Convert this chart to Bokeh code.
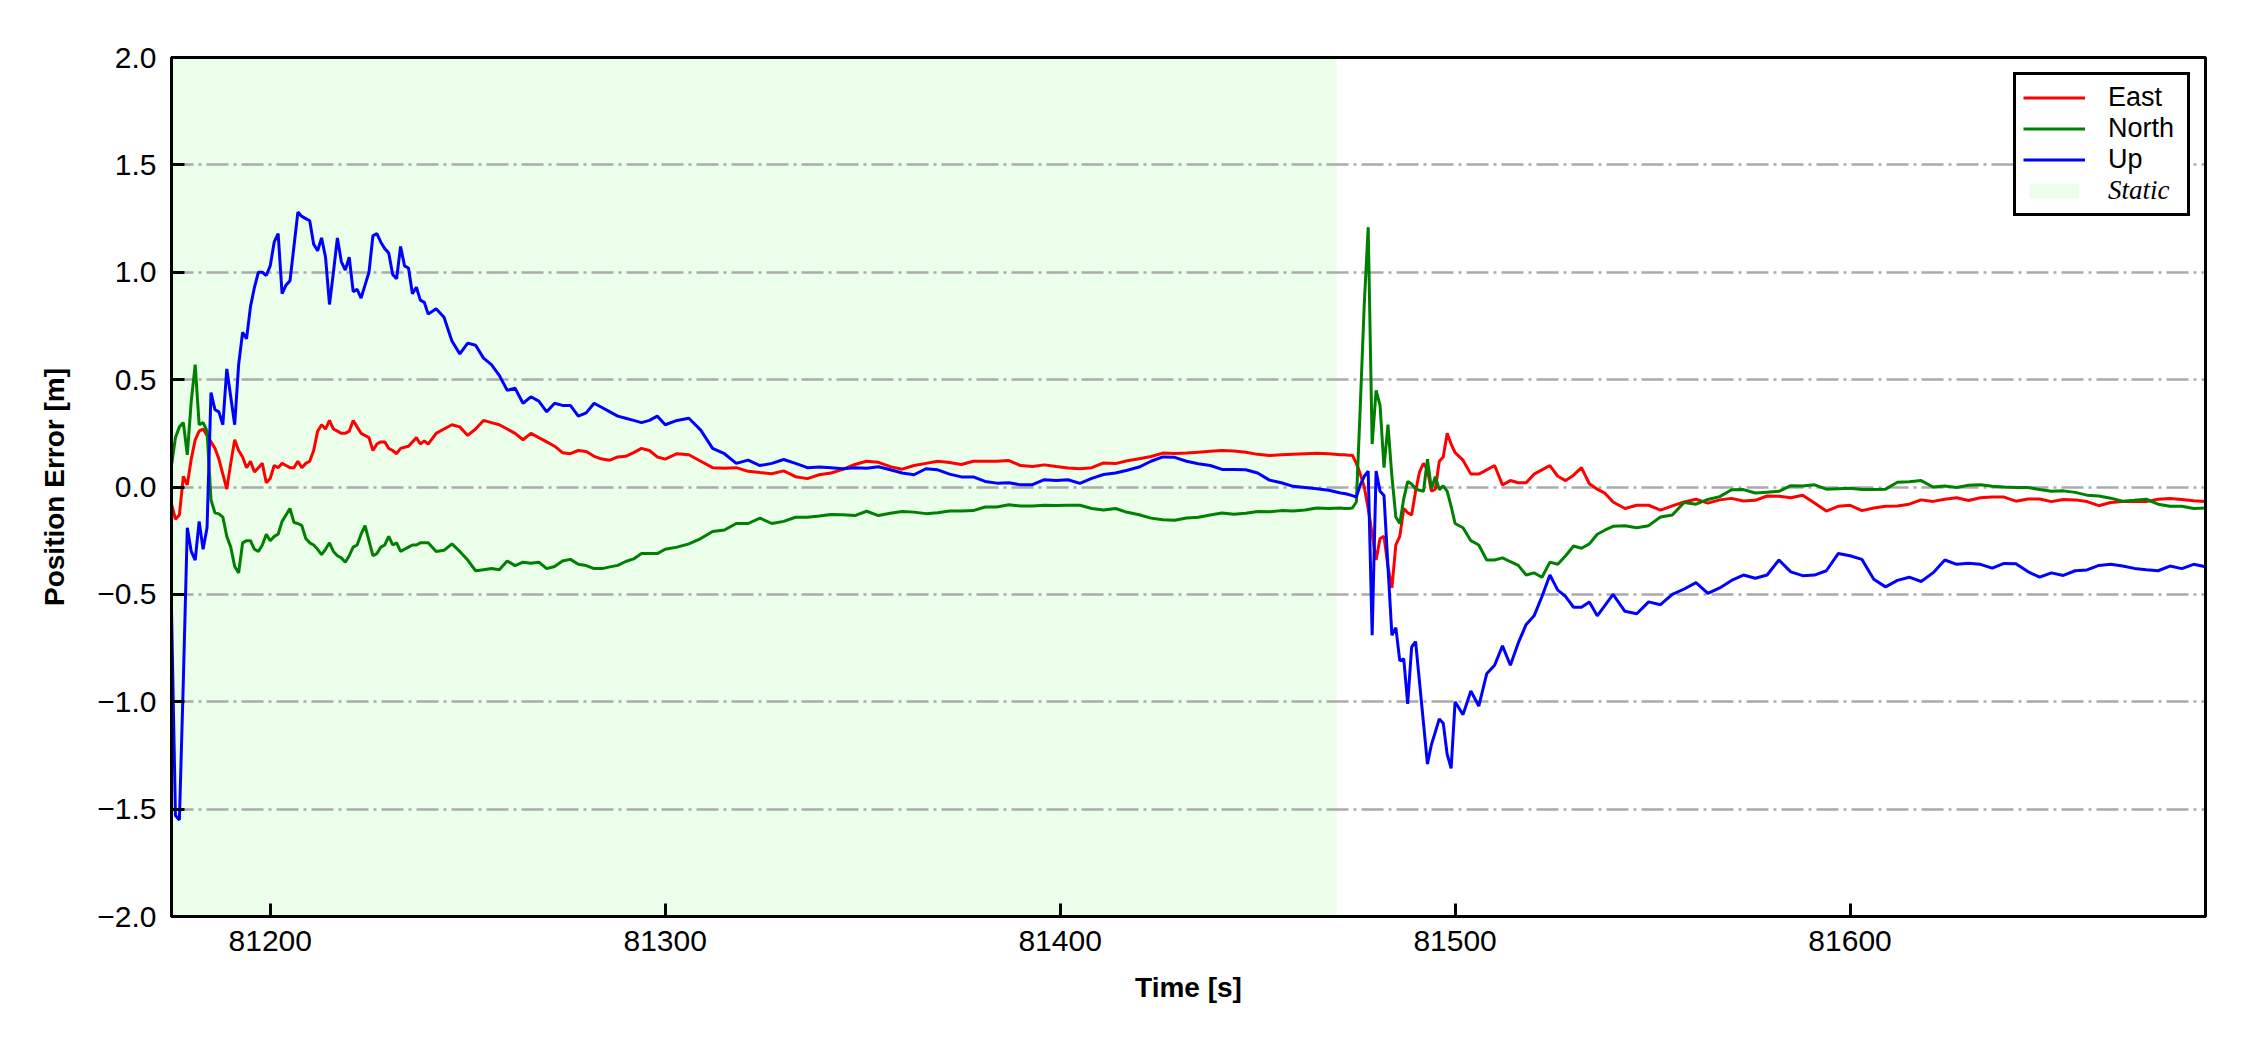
import numpy as np
from bokeh.plotting import figure
from bokeh.models import Range1d, FixedTicker, Legend, LegendItem, LinearAxis
from bokeh.embed import file_html
from bokeh.resources import INLINE

# ---------------- data ----------------
time_s = np.concatenate([
    np.arange(81175, 81241, 1),
    np.arange(81242, 81301, 2),
    np.arange(81303, 81472, 3),
    np.arange(81472, 81501, 1),
    np.arange(81502, 81541, 2),
    np.arange(81543, 81691, 3),
])

east = [
    -0.08, -0.15, -0.13, 0.05, 0.01, 0.13, 0.22, 0.26, 0.27, 0.24,
    0.21, 0.18, 0.13, 0.06, -0.01, 0.11, 0.22, 0.17, 0.14, 0.09,
    0.12, 0.07, 0.09, 0.11, 0.02, 0.04, 0.10, 0.09, 0.11, 0.10,
    0.09, 0.09, 0.12, 0.09, 0.11, 0.12, 0.17, 0.26, 0.29, 0.27,
    0.31, 0.27, 0.26, 0.25, 0.25, 0.26, 0.31, 0.28, 0.25, 0.24,
    0.23, 0.17, 0.20, 0.21, 0.21, 0.18, 0.17, 0.155, 0.18, 0.185,
    0.19, 0.21, 0.23, 0.20, 0.215, 0.20,
    0.25, 0.27, 0.29, 0.28, 0.24, 0.27, 0.31, 0.30, 0.29, 0.27,
    0.25, 0.22, 0.25, 0.23, 0.21, 0.19, 0.16, 0.155, 0.17, 0.165,
    0.143, 0.13, 0.125, 0.14, 0.143, 0.16, 0.18, 0.17, 0.14, 0.13,
    0.155, 0.15, 0.12, 0.09, 0.087, 0.09, 0.073, 0.067, 0.062, 0.075,
    0.048, 0.039, 0.057, 0.065, 0.082, 0.105, 0.12, 0.115, 0.095, 0.083,
    0.10, 0.11, 0.12, 0.114, 0.105, 0.12, 0.12, 0.12, 0.123, 0.10,
    0.095, 0.103, 0.095, 0.089, 0.085, 0.09, 0.112, 0.109, 0.122, 0.132,
    0.142, 0.158, 0.156, 0.158, 0.162, 0.166, 0.17, 0.168, 0.162, 0.152,
    0.147, 0.15, 0.153, 0.155, 0.157, 0.155, 0.15,
    0.15, 0.148, 0.148, 0.11, 0.06, 0.0, -0.1, -0.22, -0.34, -0.24,
    -0.23, -0.37, -0.47, -0.27, -0.23, -0.10, -0.12, -0.13, -0.02, 0.07,
    0.11, 0.08, -0.02, -0.01, 0.12, 0.14, 0.25, 0.20, 0.16,
    0.125, 0.06, 0.06, 0.08, 0.10, 0.01, 0.03, 0.02, 0.02, 0.06,
    0.08, 0.10, 0.05, 0.03, 0.055, 0.09, 0.015, -0.01, -0.03, -0.07,
    -0.10, -0.085, -0.085, -0.108, -0.088, -0.07, -0.057, -0.075, -0.06, -0.053,
    -0.065, -0.062, -0.042, -0.043, -0.05, -0.038, -0.075, -0.112, -0.09, -0.085,
    -0.11, -0.098, -0.09, -0.088, -0.08, -0.06, -0.067, -0.057, -0.05, -0.063,
    -0.05, -0.047, -0.047, -0.066, -0.056, -0.056, -0.068, -0.058, -0.06, -0.068,
    -0.087, -0.072, -0.067, -0.068, -0.068, -0.057, -0.053, -0.058, -0.064, -0.067,
]

north = [
    0.10, 0.23, 0.28, 0.30, 0.15, 0.40, 0.57, 0.29, 0.30, 0.26,
    -0.06, -0.12, -0.125, -0.14, -0.23, -0.28, -0.37, -0.40, -0.26, -0.25,
    -0.25, -0.29, -0.30, -0.27, -0.22, -0.25, -0.23, -0.22, -0.16, -0.13,
    -0.10, -0.165, -0.17, -0.18, -0.24, -0.26, -0.27, -0.29, -0.315, -0.29,
    -0.26, -0.30, -0.32, -0.33, -0.35, -0.32, -0.28, -0.27, -0.22, -0.18,
    -0.25, -0.32, -0.31, -0.28, -0.27, -0.23, -0.27, -0.26, -0.30, -0.29,
    -0.28, -0.27, -0.27, -0.26, -0.26, -0.26,
    -0.30, -0.295, -0.265, -0.30, -0.34, -0.39, -0.385, -0.38, -0.385, -0.345,
    -0.366, -0.35, -0.355, -0.35, -0.38, -0.37, -0.345, -0.337, -0.36, -0.366,
    -0.38, -0.38, -0.372, -0.365, -0.347, -0.335, -0.31, -0.31, -0.31, -0.29,
    -0.28, -0.265, -0.24, -0.207, -0.20, -0.17, -0.17, -0.145, -0.17, -0.16,
    -0.141, -0.141, -0.135, -0.128, -0.129, -0.133, -0.113, -0.133, -0.122, -0.114,
    -0.117, -0.124, -0.12, -0.112, -0.112, -0.11, -0.093, -0.093, -0.083, -0.088,
    -0.088, -0.085, -0.086, -0.085, -0.085, -0.10, -0.107, -0.10, -0.118, -0.129,
    -0.145, -0.153, -0.155, -0.144, -0.141, -0.13, -0.121, -0.127, -0.122, -0.114,
    -0.115, -0.11, -0.112, -0.107, -0.098, -0.10, -0.098,
    -0.10, -0.10, -0.098, -0.07, 0.38, 0.85, 1.21, 0.20, 0.45, 0.38,
    0.09, 0.29, 0.05, -0.14, -0.17, -0.055, 0.026, 0.014, -0.01, -0.015,
    -0.02, 0.13, -0.007, 0.048, -0.012, 0.005, -0.02, -0.09, -0.17,
    -0.19, -0.25, -0.27, -0.34, -0.34, -0.33, -0.348, -0.365, -0.41, -0.40,
    -0.42, -0.35, -0.36, -0.32, -0.275, -0.285, -0.265, -0.22, -0.20, -0.183,
    -0.18, -0.19, -0.18, -0.14, -0.13, -0.072, -0.08, -0.058, -0.045, -0.013,
    -0.012, -0.028, -0.024, -0.02, 0.006, 0.005, 0.01, -0.01, -0.008, -0.006,
    -0.012, -0.012, -0.01, 0.022, 0.024, 0.03, 0.0, 0.005, -0.002, 0.008,
    0.011, 0.004, 0.0, -0.002, -0.002, -0.012, -0.02, -0.018, -0.025, -0.038,
    -0.042, -0.052, -0.066, -0.062, -0.057, -0.08, -0.09, -0.09, -0.10, -0.098,
]

up = [
    -0.57, -1.53, -1.55, -0.90, -0.19, -0.30, -0.34, -0.16, -0.29, -0.19,
    0.44, 0.36, 0.35, 0.29, 0.55, 0.42, 0.29, 0.57, 0.72, 0.69,
    0.84, 0.93, 1.00, 1.00, 0.985, 1.03, 1.14, 1.18, 0.90, 0.94,
    0.96, 1.12, 1.28, 1.26, 1.25, 1.24, 1.13, 1.10, 1.16, 1.07,
    0.85, 1.00, 1.16, 1.05, 1.01, 1.07, 0.91, 0.92, 0.88, 0.94,
    1.00, 1.17, 1.18, 1.14, 1.11, 1.09, 0.99, 0.97, 1.12, 1.03,
    1.02, 0.90, 0.93, 0.87, 0.86, 0.805,
    0.83, 0.79, 0.68, 0.62, 0.67, 0.66, 0.60, 0.57, 0.52, 0.45,
    0.46, 0.39, 0.42, 0.40, 0.35, 0.39, 0.38, 0.38, 0.33, 0.345,
    0.39, 0.37, 0.35, 0.33, 0.32, 0.31, 0.30, 0.31, 0.33, 0.29,
    0.31, 0.32, 0.265, 0.18, 0.155, 0.11, 0.125, 0.10, 0.11, 0.128,
    0.11, 0.09, 0.093, 0.09, 0.085, 0.09, 0.087, 0.094, 0.08, 0.065,
    0.057, 0.085, 0.08, 0.06, 0.047, 0.047, 0.026, 0.018, 0.02, 0.01,
    0.011, 0.034, 0.03, 0.034, 0.017, 0.04, 0.058, 0.065, 0.078, 0.093,
    0.12, 0.14, 0.138, 0.12, 0.108, 0.10, 0.082, 0.082, 0.08, 0.065,
    0.032, 0.02, 0.003, -0.002, -0.008, -0.015, -0.028,
    -0.03, -0.035, -0.04, -0.047, 0.01, 0.05, 0.074, -0.69, 0.074, -0.02,
    -0.04, -0.37, -0.69, -0.655, -0.81, -0.80, -1.01, -0.745, -0.72, -0.91,
    -1.10, -1.29, -1.20, -1.14, -1.08, -1.10, -1.245, -1.31, -1.00,
    -1.06, -0.95, -1.02, -0.87, -0.83, -0.74, -0.83, -0.726, -0.64, -0.60,
    -0.51, -0.41, -0.48, -0.51, -0.56, -0.56, -0.535, -0.60, -0.55, -0.50,
    -0.579, -0.59, -0.535, -0.548, -0.50, -0.475, -0.445, -0.495, -0.47, -0.435,
    -0.41, -0.425, -0.41, -0.34, -0.395, -0.413, -0.41, -0.39, -0.31, -0.32,
    -0.337, -0.43, -0.465, -0.435, -0.42, -0.44, -0.40, -0.34, -0.36, -0.355,
    -0.36, -0.378, -0.356, -0.357, -0.394, -0.42, -0.40, -0.412, -0.39, -0.386,
    -0.365, -0.36, -0.368, -0.379, -0.385, -0.39, -0.368, -0.38, -0.36, -0.371,
]

static_interval = [81175, 81470]
x_limits = [81175, 81690]
y_limits = [-2.0, 2.0]
x_ticks = [81200, 81300, 81400, 81500, 81600]
x_tick_labels = ["81200", "81300", "81400", "81500", "81600"]
y_ticks = [-2.0, -1.5, -1.0, -0.5, 0.0, 0.5, 1.0, 1.5, 2.0]
y_tick_labels = ["\u22122.0", "\u22121.5", "\u22121.0", "\u22120.5", "0.0", "0.5", "1.0", "1.5", "2.0"]
series_names = ["East", "North", "Up"]
static_name = "Static"

# ---------------- figure ----------------
SANS = "Liberation Sans"
BL, BR, BT, BB = 171, 29, 57, 118
W, H = 2234, 1034
p = figure(width=W, height=H, output_backend="svg", toolbar_location=None,
           x_range=Range1d(*x_limits), y_range=Range1d(*y_limits),
           min_border_left=BL, min_border_right=BR, min_border_top=BT, min_border_bottom=BB)
p.background_fill_color = "white"
p.border_fill_color = "white"
p.outline_line_color = "black"
p.outline_line_width = 3
p.outline_line_alpha = 1.0

xax = p.below[0]
yax = p.left[0]

# static shaded interval
static_r = p.quad(left=[static_interval[0]], right=[static_interval[1]],
                  bottom=[y_limits[0]], top=[y_limits[1]],
                  fill_color="palegreen", fill_alpha=0.2, line_color=None, level="image")

colors = ["#ff0000", "#008000", "#0000ff"]
renderers = []
for vals, col in zip([east, north, up], colors):
    renderers.append(p.line(time_s, vals, line_color=col, line_width=3))

# axes
for ax in (xax, yax):
    ax.axis_line_color = "black"
    ax.axis_line_width = 3
    ax.major_tick_line_color = "black"
    ax.major_tick_line_width = 3
    ax.major_tick_in = 13
    ax.major_tick_out = 0
    ax.minor_tick_line_color = None
    ax.major_label_text_font = SANS
    ax.major_label_text_font_size = "30px"
    ax.major_label_text_color = "black"
    ax.axis_label_text_font = SANS
    ax.axis_label_text_font_size = "28px"
    ax.axis_label_text_font_style = "bold"
    ax.axis_label_text_color = "black"

xax.ticker = FixedTicker(ticks=x_ticks)
xax.major_label_overrides = {t: s for t, s in zip(x_ticks, x_tick_labels)}
yax.ticker = FixedTicker(ticks=y_ticks)
yax.major_label_overrides = {t: s for t, s in zip(y_ticks, y_tick_labels)}
xax.axis_label = "Time [s]"
yax.axis_label = "Position Error [m]"
xax.major_label_standoff = 14
yax.major_label_standoff = 15
xax.axis_label_standoff = 18
yax.axis_label_standoff = 24

# frame lines on top / right (no ticks, no labels)
for side in ("above", "right"):
    fr = LinearAxis(ticker=FixedTicker(ticks=[]))
    fr.axis_line_color = "black"
    fr.axis_line_width = 3
    fr.major_tick_line_color = None
    fr.minor_tick_line_color = None
    fr.major_label_text_font_size = "0px"
    p.add_layout(fr, side)

# grid
p.xgrid.grid_line_color = None
p.ygrid.ticker = FixedTicker(ticks=y_ticks)
p.ygrid.grid_line_color = "#aaaaaa"
p.ygrid.grid_line_width = 2.5
p.ygrid.grid_line_dash = "22 5 3 5"

# legend geometry (screen px; location tuple = bottom-left corner in frame coords)
PAD, GW, GH, STANDOFF, LW, LH = 7, 62, 19, 23, 72, 31
leg_left, leg_bottom = 1842, 700
leg2_left, leg2_bottom = 1852, 710


def style_legend(lg, font, font_style):
    lg.padding = PAD
    lg.spacing = 0
    lg.glyph_width = GW
    lg.glyph_height = GH
    lg.label_standoff = STANDOFF
    lg.label_width = LW
    lg.label_height = LH
    lg.label_text_font = font
    lg.label_text_font_style = font_style
    lg.label_text_font_size = "27px"
    lg.label_text_color = "black"
    lg.margin = 0


items = [LegendItem(label=n, renderers=[r]) for n, r in zip(series_names, renderers)]
items.append(LegendItem(label=" ", renderers=[static_r]))
legend = Legend(items=items, location=(leg_left, leg_bottom))
style_legend(legend, SANS, "normal")
legend.border_line_color = "black"
legend.border_line_width = 3
legend.border_line_alpha = 1.0
legend.background_fill_color = "white"
legend.background_fill_alpha = 1.0
p.add_layout(legend)

# second, transparent legend carrying the italic serif "Static" text on row 4
ghost = p.quad(left=[], right=[], bottom=[], top=[], fill_alpha=0, line_alpha=0)
legend2 = Legend(items=[LegendItem(label=static_name, renderers=[ghost])],
                 location=(leg2_left, leg2_bottom))
style_legend(legend2, "Liberation Serif", "italic")
legend2.border_line_color = None
legend2.background_fill_alpha = 0.0
p.add_layout(legend2)

open("out.html", "w").write(file_html(p, INLINE))
